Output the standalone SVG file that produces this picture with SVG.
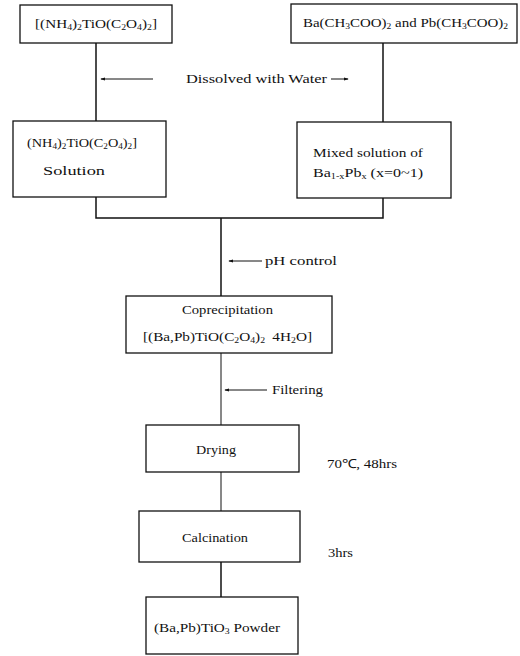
<svg xmlns="http://www.w3.org/2000/svg" width="520" height="656" viewBox="0 0 520 656">
<style>
.box{fill:#fff;stroke:#111;stroke-width:1.3}
.ln{fill:none;stroke:#111;stroke-width:1.5}
.thin{fill:none;stroke:#111;stroke-width:1}
text{font-family:"Liberation Serif","Times New Roman",serif;font-size:12.5px;fill:#111}
.s{font-size:8px}
</style>
<defs>
<marker id="ah" viewBox="0 0 6 6" refX="5" refY="3" markerWidth="5" markerHeight="5" orient="auto-start-reverse"><path d="M0,1 L6,3 L0,5 z" fill="#111"/></marker>
</defs>
<rect width="520" height="656" fill="#fff"/>
<g id="connectors">
<line class="ln" x1="96" y1="43" x2="96" y2="121"/>
<line class="ln" x1="383" y1="43" x2="383" y2="122"/>
<polyline class="ln" points="96,197 96,218 383,218 383,198"/>
<line class="ln" x1="221" y1="218" x2="221" y2="296"/>
<line class="thin" x1="221" y1="353" x2="221" y2="425"/>
<line class="thin" x1="221" y1="472" x2="221" y2="511"/>
<line class="ln" x1="221" y1="562" x2="221" y2="597"/>
<line class="thin" x1="153" y1="79" x2="101" y2="79" marker-end="url(#ah)"/>
<line class="thin" x1="331" y1="79" x2="348" y2="79" marker-end="url(#ah)"/>
<line class="thin" x1="262" y1="261" x2="229" y2="261" marker-end="url(#ah)"/>
<line class="thin" x1="267" y1="390" x2="225" y2="390" marker-end="url(#ah)"/>
</g>
<g id="n1"><rect class="box" x="20" y="5" width="152" height="38"/>
<text x="35" y="28" textLength="122" lengthAdjust="spacingAndGlyphs">[(NH<tspan class="s" dy="2">4</tspan><tspan dy="-2">)</tspan><tspan class="s" dy="2">2</tspan><tspan dy="-2">TiO(C</tspan><tspan class="s" dy="2">2</tspan><tspan dy="-2">O</tspan><tspan class="s" dy="2">4</tspan><tspan dy="-2">)</tspan><tspan class="s" dy="2">2</tspan><tspan dy="-2">]</tspan></text></g>
<g id="n2"><rect class="box" x="291" y="4" width="226" height="39"/>
<text x="303" y="27" textLength="205" lengthAdjust="spacingAndGlyphs">Ba(CH<tspan class="s" dy="2">3</tspan><tspan dy="-2">COO)</tspan><tspan class="s" dy="2">2</tspan><tspan dy="-2"> and Pb(CH</tspan><tspan class="s" dy="2">3</tspan><tspan dy="-2">COO)</tspan><tspan class="s" dy="2">2</tspan></text></g>
<g id="lbl-water"><text x="186" y="83" textLength="141" lengthAdjust="spacingAndGlyphs">Dissolved with Water</text></g>
<g id="n3"><rect class="box" x="13" y="121" width="153" height="76"/>
<text x="27" y="147" textLength="110" lengthAdjust="spacingAndGlyphs">(NH<tspan class="s" dy="2">4</tspan><tspan dy="-2">)</tspan><tspan class="s" dy="2">2</tspan><tspan dy="-2">TiO(C</tspan><tspan class="s" dy="2">2</tspan><tspan dy="-2">O</tspan><tspan class="s" dy="2">4</tspan><tspan dy="-2">)</tspan><tspan class="s" dy="2">2</tspan><tspan dy="-2">]</tspan></text>
<text x="43" y="175" textLength="62" lengthAdjust="spacingAndGlyphs">Solution</text></g>
<g id="n4"><rect class="box" x="297" y="122" width="154" height="76"/>
<text x="313" y="157" textLength="110" lengthAdjust="spacingAndGlyphs">Mixed solution of</text>
<text x="313" y="177" textLength="110" lengthAdjust="spacingAndGlyphs">Ba<tspan class="s" dy="2">1-x</tspan><tspan dy="-2">Pb</tspan><tspan class="s" dy="2">x</tspan><tspan dy="-2"> (x=0~1)</tspan></text></g>
<g id="lbl-ph"><text x="265" y="265" textLength="72" lengthAdjust="spacingAndGlyphs">pH control</text></g>
<g id="n5"><rect class="box" x="126" y="296" width="206" height="57"/>
<text x="182" y="314" textLength="91" lengthAdjust="spacingAndGlyphs">Coprecipitation</text>
<text x="143" y="341" textLength="169" lengthAdjust="spacingAndGlyphs">[(Ba,Pb)TiO(C<tspan class="s" dy="2">2</tspan><tspan dy="-2">O</tspan><tspan class="s" dy="2">4</tspan><tspan dy="-2">)</tspan><tspan class="s" dy="2">2</tspan><tspan dy="-2" dx="6">4H</tspan><tspan class="s" dy="2">2</tspan><tspan dy="-2">O]</tspan></text></g>
<g id="lbl-filter"><text x="272" y="394" textLength="51" lengthAdjust="spacingAndGlyphs">Filtering</text></g>
<g id="n6"><rect class="box" x="146" y="425" width="153" height="47"/>
<text x="196" y="454" textLength="40" lengthAdjust="spacingAndGlyphs">Drying</text></g>
<g id="lbl-dry"><text x="327" y="468" textLength="70" lengthAdjust="spacingAndGlyphs">70℃, 48hrs</text></g>
<g id="n7"><rect class="box" x="139" y="511" width="161" height="51"/>
<text x="182" y="542" textLength="66" lengthAdjust="spacingAndGlyphs">Calcination</text></g>
<g id="lbl-calc"><text x="328" y="557" textLength="25" lengthAdjust="spacingAndGlyphs">3hrs</text></g>
<g id="n8"><rect class="box" x="146" y="597" width="152" height="57"/>
<text x="154" y="632" textLength="126" lengthAdjust="spacingAndGlyphs">(Ba,Pb)TiO<tspan class="s" dy="2">3</tspan><tspan dy="-2"> Powder</tspan></text></g>
</svg>
